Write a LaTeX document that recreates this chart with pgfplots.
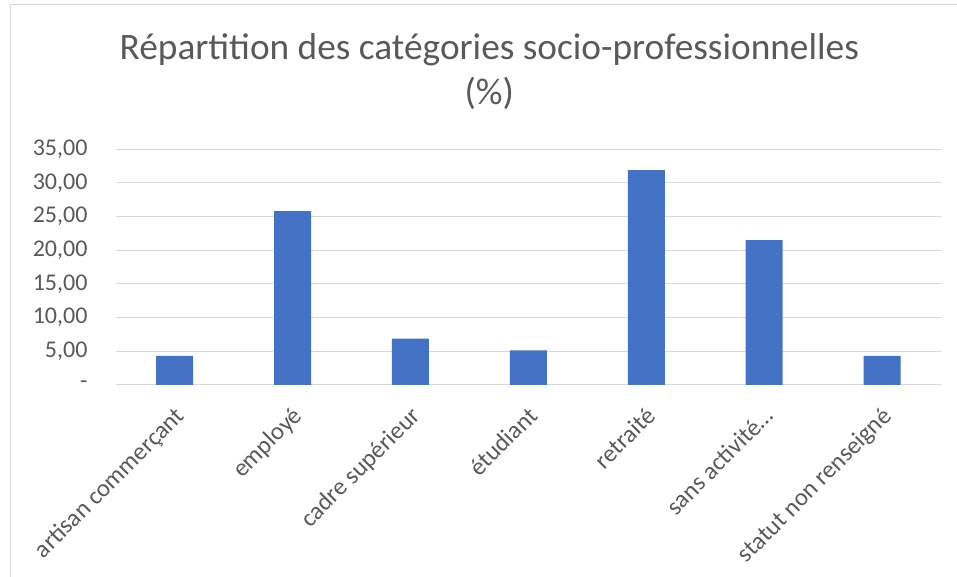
\documentclass[border=0pt]{standalone}
\usepackage{fontspec}
\setmainfont{Carlito}
\usepackage{pgfplots}
\pgfplotsset{compat=1.18}
\definecolor{barblue}{HTML}{4472C4}
\definecolor{gridgray}{HTML}{D9D9D9}
\definecolor{txtgray}{HTML}{595959}
\begin{document}
\begin{tikzpicture}[x=1pt,y=1pt]
\useasboundingbox (0,0) rectangle (717.75,432.75);
\draw[gridgray, line width=0.75pt] (7.5,0) -- (7.5,429) -- (717.75,429);
\node[text=txtgray, font=\fontsize{28}{34}\selectfont, anchor=base, inner sep=0pt] at (367, 388.3) {Répartition des catégories socio-professionnelles};
\node[text=txtgray, font=\fontsize{28}{34}\selectfont, anchor=base, inner sep=0pt] at (367, 354) {(\%)};
\begin{axis}[
  at={(86.8pt,144pt)}, anchor=south west,
  scale only axis, width=619pt, height=176.8pt,
  xmin=-0.5, xmax=6.5, ymin=0, ymax=35,
  ytick={0,5,...,35},
  yticklabels={{-\hspace{9pt}},{5,00},{10,00},{15,00},{20,00},{25,00},{30,00},{35,00}},
  xtick=data,
  xticklabels={artisan commerçant, employé, cadre supérieur, étudiant, retraité, sans activité…, statut non renseigné},
  axis line style={draw=none},
  major tick length=0pt,
  ymajorgrids,
  grid style={gridgray, line width=0.75pt},
  ybar, bar width=27.75pt,
  tick label style={font=\fontsize{18}{22}\selectfont, text=txtgray},
  xticklabel style={xshift=-1pt, yshift=-15pt, rotate=45, anchor=north east, inner sep=0pt, font=\fontsize{18.5}{22}\selectfont},
  yticklabel style={anchor=east, inner sep=0pt, xshift=-21pt},
  clip=false,
]
\addplot[fill=barblue, draw=none] coordinates {(0,4.31) (1,25.8) (2,6.88) (3,5.15) (4,31.9) (5,21.5) (6,4.31)};
\end{axis}
\end{tikzpicture}
\end{document}
